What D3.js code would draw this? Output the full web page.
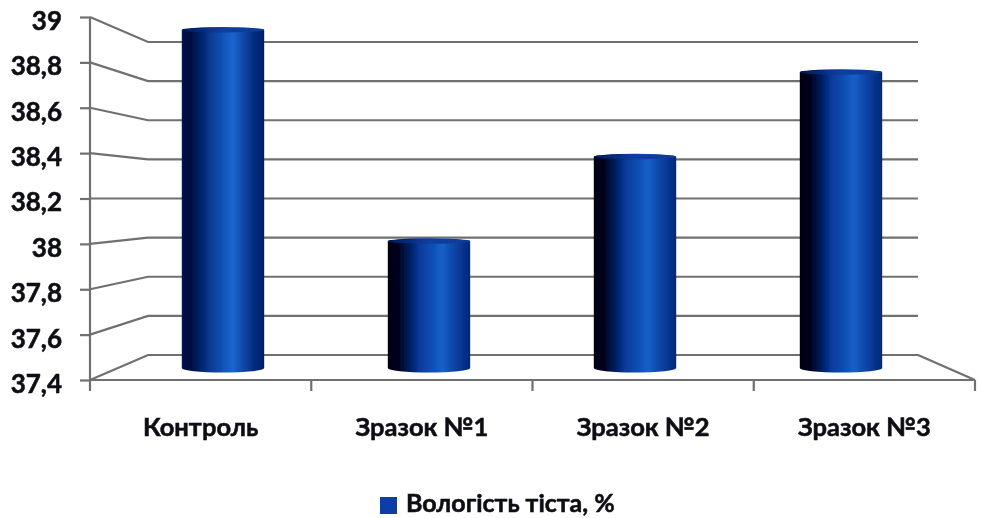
<!DOCTYPE html>
<html>

<head>
    <meta charset="UTF-8">
    <title>Вологість тіста</title>
    <style type="text/css">
        html, body {
            margin: 0;
            padding: 0;
            background: #fff;
            overflow: hidden;
        }

        text {
            font-family: Lato, "Open Sans", sans-serif;
            font-weight: 700;
            fill: #0c0c14;
            stroke: #0c0c14;
            stroke-width: 0.55px;
        }

        .grid {
            fill: none;
            stroke: #707070;
            stroke-width: 2.2px;
        }

        .axis path,
        .axis line {
            fill: none;
            stroke: #707070;
            stroke-width: 2.2px;
        }
    </style>
    <script src="https://d3js.org/d3.v7.min.js"></script>
</head>

<body>
    <script type="text/javascript">
        // Values
        const categories = ["Контроль", "Зразок №1", "Зразок №2", "Зразок №3"];
        const moisture = [39, 38, 38.4, 38.8];
        const yTicks = [37.4, 37.6, 37.8, 38, 38.2, 38.4, 38.6, 38.8, 39];
        const seriesName = "Вологість тіста, %";

        const width = 981, height = 518;
        const domain = [37.4, 39];

        const svg = d3.select("body").append("svg")
            .attr("width", width)
            .attr("height", height);

        const defs = svg.append("defs");

        // Slight softness, the reference is a scaled-up screenshot
        defs.append("filter").attr("id", "soft")
            .append("feGaussianBlur").attr("stdDeviation", 0.55);

        // Cylinder shading, first bar is a bit lighter than the others
        function addGradient(id, stops) {
            const g = defs.append("linearGradient").attr("id", id);
            stops.forEach(s => g.append("stop").attr("offset", s[0]).attr("stop-color", s[1]));
        }
        addGradient("cylFirst", [[0, "#00134f"], [0.1, "#000c3c"], [0.35, "#083a94"], [0.62, "#1a66cf"], [0.85, "#063088"], [1, "#001e68"]]);
        addGradient("cyl", [[0, "#00000f"], [0.14, "#000420"], [0.38, "#07399a"], [0.66, "#1560c8"], [0.86, "#083a9a"], [1, "#03287c"]]);
        addGradient("cap", [[0, "#001a5c"], [0.5, "#0a3f9e"], [1, "#0a3a98"]]);

        // Front plane, back wall and the plane the bars stand in
        const yFront = d3.scaleLinear().domain(domain).range([380, 17]);
        const yBack = d3.scaleLinear().domain(domain).range([355, 42]);
        const yMid = d3.scaleLinear().domain(domain).range([368, 30]);

        const xFront = d3.scaleBand().domain(categories).range([90, 975]);
        const xMid = d3.scaleBand().domain(categories).range([120, 944])
            .paddingInner(0.6).paddingOuter(0.3);

        const backLeft = 148, backRight = 918;

        const plot = svg.append("g").attr("filter", "url(#soft)");

        // Gridlines: from the axis, back along the side wall, then across
        const gridLine = d3.line();
        plot.selectAll(".grid")
            .data(yTicks)
            .enter().append("path")
            .attr("class", "grid")
            .attr("d", d => gridLine([[xFront.range()[0], yFront(d)], [backLeft, yBack(d)], [backRight, yBack(d)]]));

        // Floor edge on the right
        plot.append("path")
            .attr("class", "grid")
            .attr("d", gridLine([[backRight, yBack(domain[0])], [xFront.range()[1], yFront(domain[0])]]));

        // Y axis
        const yAxis = d3.axisLeft(yFront)
            .tickValues(yTicks)
            .tickSize(10)
            .tickPadding(10)
            .tickFormat(d => String(d).replace(".", ","));

        const yG = svg.append("g")
            .attr("class", "axis")
            .attr("transform", "translate(90,0)")
            .attr("filter", "url(#soft)")
            .call(yAxis);
        yG.select(".domain").remove();
        yG.selectAll("text").style("font-size", "26px").attr("x", -28).attr("dy", "0.48em");
        yG.append("line")
            .attr("y1", yFront(domain[1]))
            .attr("y2", yFront(domain[0]) + 11);

        // X axis, ticks sit between the categories
        const xAxis = d3.axisBottom(xFront).tickSize(0).tickPadding(38);
        const xG = svg.append("g")
            .attr("class", "axis")
            .attr("transform", `translate(0,${yFront(domain[0])})`)
            .attr("filter", "url(#soft)")
            .call(xAxis);
        xG.select(".domain").remove();
        xG.selectAll("text").style("font-size", "25.5px");
        xG.append("line")
            .attr("x1", xFront.range()[0])
            .attr("x2", xFront.range()[1]);
        xG.selectAll(".edge")
            .data(categories)
            .enter().append("line")
            .attr("class", "edge")
            .attr("x1", d => xFront(d) + xFront.bandwidth())
            .attr("x2", d => xFront(d) + xFront.bandwidth())
            .attr("y2", 11);

        // Cylinders
        const bw = xMid.bandwidth();
        const bars = svg.append("g")
            .attr("filter", "url(#soft)")
            .selectAll("g")
            .data(categories.map((c, i) => ({ name: c, value: moisture[i], i: i })))
            .enter().append("g");

        bars.append("path")
            .attr("fill", d => d.i === 0 ? "url(#cylFirst)" : "url(#cyl)")
            .attr("d", d => {
                const x0 = xMid(d.name), x1 = x0 + bw;
                const top = yMid(d.value), bottom = yMid(domain[0]);
                return `M${x0},${top} A${bw / 2},3 0 0 1 ${x1},${top} L${x1},${bottom} A${bw / 2},4.5 0 0 1 ${x0},${bottom} Z`;
            });

        bars.append("ellipse")
            .attr("fill", "url(#cap)")
            .attr("cx", d => xMid(d.name) + bw / 2)
            .attr("cy", d => yMid(d.value))
            .attr("rx", bw / 2)
            .attr("ry", 2.5);

        // Legend
        const legend = svg.append("g").attr("filter", "url(#soft)");
        legend.append("rect")
            .attr("x", 380).attr("y", 497)
            .attr("width", 17).attr("height", 17)
            .attr("fill", "#0a3ca6");
        legend.append("text")
            .attr("x", 406).attr("y", 512)
            .style("font-size", "25px")
            .text(seriesName);
    </script>
</body>

</html>
